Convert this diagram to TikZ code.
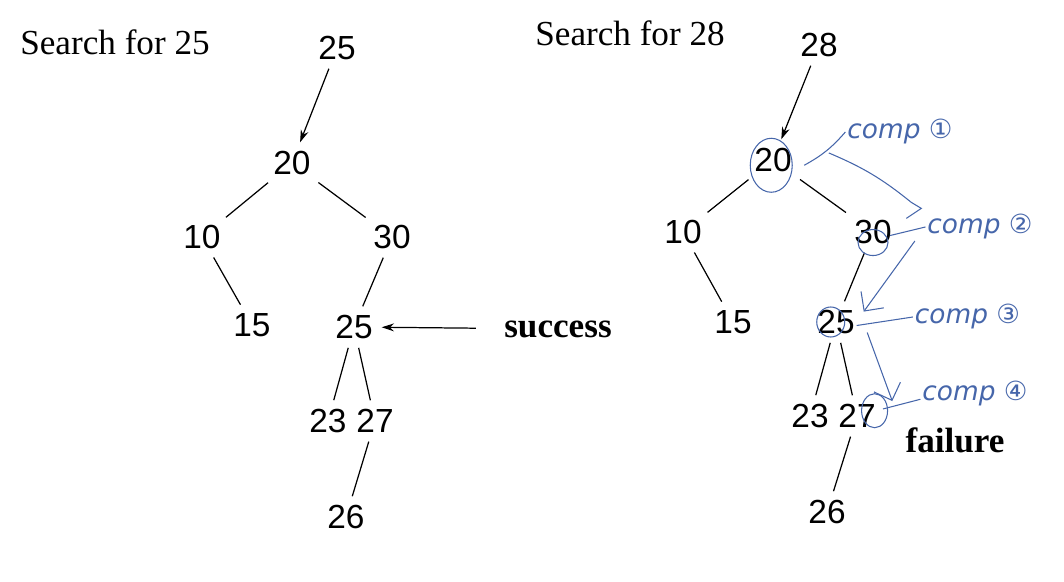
\documentclass[tikz,border=0pt]{standalone}
\usepackage{fontspec}
\setmainfont{Liberation Serif}
\newfontfamily\keyfont{Liberation Sans}
\newfontfamily\handfont{DejaVu Sans}
\usetikzlibrary{arrows.meta}
\definecolor{handblue}{RGB}{70,102,170}
\begin{document}
\begin{tikzpicture}[
        key/.style={font=\keyfont\fontsize{19}{19}\selectfont, inner sep=3pt},
        title/.style={font=\fontsize{20}{20}\selectfont, anchor=west, inner sep=0pt},
        verdict/.style={font=\bfseries\fontsize{20}{20}\selectfont, inner sep=0pt},
        edge/.style={black, line width=0.7pt, shorten <=2pt, shorten >=2pt},
        pointer/.style={edge, -{Stealth[length=7pt,width=4.5pt]}},
        hand/.style={handblue, line width=0.6pt},
        note/.style={handblue, font=\handfont\itshape\fontsize{15}{15}\selectfont, inner sep=1pt}
    ]
    \useasboundingbox (0,0) rectangle (21.28,-11.64);

    % search for 25
    \node[title] (s1) at (0.40,-0.84) {Search for 25};
    \node[key] (t25) at (6.74,-0.96) {25};
    \node[key] (l20) at (5.84,-3.26) {20};
    \node[key] (l10) at (4.04,-4.74) {10};
    \node[key] (l30) at (7.84,-4.74) {30};
    \node[key] (l15) at (5.04,-6.50) {15};
    \node[key] (l25) at (7.08,-6.54) {25};
    \node[key] (l23) at (6.56,-8.42) {23};
    \node[key] (l27) at (7.50,-8.42) {27};
    \node[key] (l26) at (6.92,-10.34) {26};
    \node[verdict] (ok) at (11.16,-6.58) {success};

    \draw[pointer] (t25) -- (l20);
    \draw[edge] (l20) -- (l10);
    \draw[edge] (l20) -- (l30);
    \draw[edge] (l10) -- (l15);
    \draw[edge] (l30) -- (l25);
    \draw[edge] (l25) -- (l23);
    \draw[edge] (l25) -- (l27);
    \draw[edge] (l27) -- (l26);
    \draw[pointer, shorten <=16pt] (ok) -- (l25);

    % search for 28
    \node[title] (s2) at (10.70,-0.66) {Search for 28};
    \node[key] (t28) at (16.38,-0.90) {28};
    \node[key] (r20) at (15.46,-3.20) {20};
    \node[key] (r10) at (13.66,-4.64) {10};
    \node[key] (r30) at (17.46,-4.64) {30};
    \node[key] (r15) at (14.66,-6.44) {15};
    \node[key] (r25) at (16.72,-6.44) {25};
    \node[key] (r23) at (16.20,-8.32) {23};
    \node[key] (r27) at (17.14,-8.32) {27};
    \node[key] (r26) at (16.54,-10.24) {26};
    \node[verdict] (bad) at (19.10,-8.80) {failure};

    \draw[pointer] (t28) -- (r20);
    \draw[edge] (r20) -- (r10);
    \draw[edge] (r20) -- (r30);
    \draw[edge] (r10) -- (r15);
    \draw[edge] (r30) -- (r25);
    \draw[edge] (r25) -- (r23);
    \draw[edge] (r25) -- (r27);
    \draw[edge] (r27) -- (r26);

    % hand notes
    \node[note] (c1) at (18.00,-2.64) {comp ①};
    \node[note] (c2) at (19.60,-4.54) {comp ②};
    \node[note] (c3) at (19.35,-6.34) {comp ③};
    \node[note] (c4) at (19.50,-7.88) {comp ④};

    \draw[hand] ([xshift=-1pt,yshift=-3pt]r20) ellipse [x radius=0.42, y radius=0.54];
    \draw[hand] ([yshift=-6pt]r30) ellipse [x radius=0.30, y radius=0.26];
    \draw[hand] ([xshift=-3pt]r25) ellipse [x radius=0.28, y radius=0.30];
    \draw[hand] ([xshift=10pt,yshift=3pt]r27) ellipse [x radius=0.26, y radius=0.34];

    \draw[hand] ([xshift=4pt,yshift=-3pt]r20.east) to[bend right=10] (c1.west);
    \draw[hand] ([xshift=18pt,yshift=4pt]r20.east) to[bend left=8] ([xshift=-8pt,yshift=14pt]c2.west)
        -- ++(0.20,-0.12) -- ++(-0.30,-0.20);
    \draw[hand] (c2.west) -- ([xshift=-4pt,yshift=-2pt]r30.east);
    \draw[hand, -{Straight Barb[length=8pt]}] ([xshift=-6pt,yshift=-8pt]c2.west) -- ([xshift=2pt,yshift=-4pt]r25.north east);
    \draw[hand] ([xshift=-2pt,yshift=-2pt]r25.east) -- (c3.west);
    \draw[hand, -{Straight Barb[length=8pt]}] ([xshift=4pt,yshift=-6pt]r25.east) -- ([xshift=-16pt,yshift=-4pt]c4.west);
    \draw[hand] ([yshift=-3pt]c4.west) -- ([xshift=1pt,yshift=4pt]r27.east);
\end{tikzpicture}
\end{document}
